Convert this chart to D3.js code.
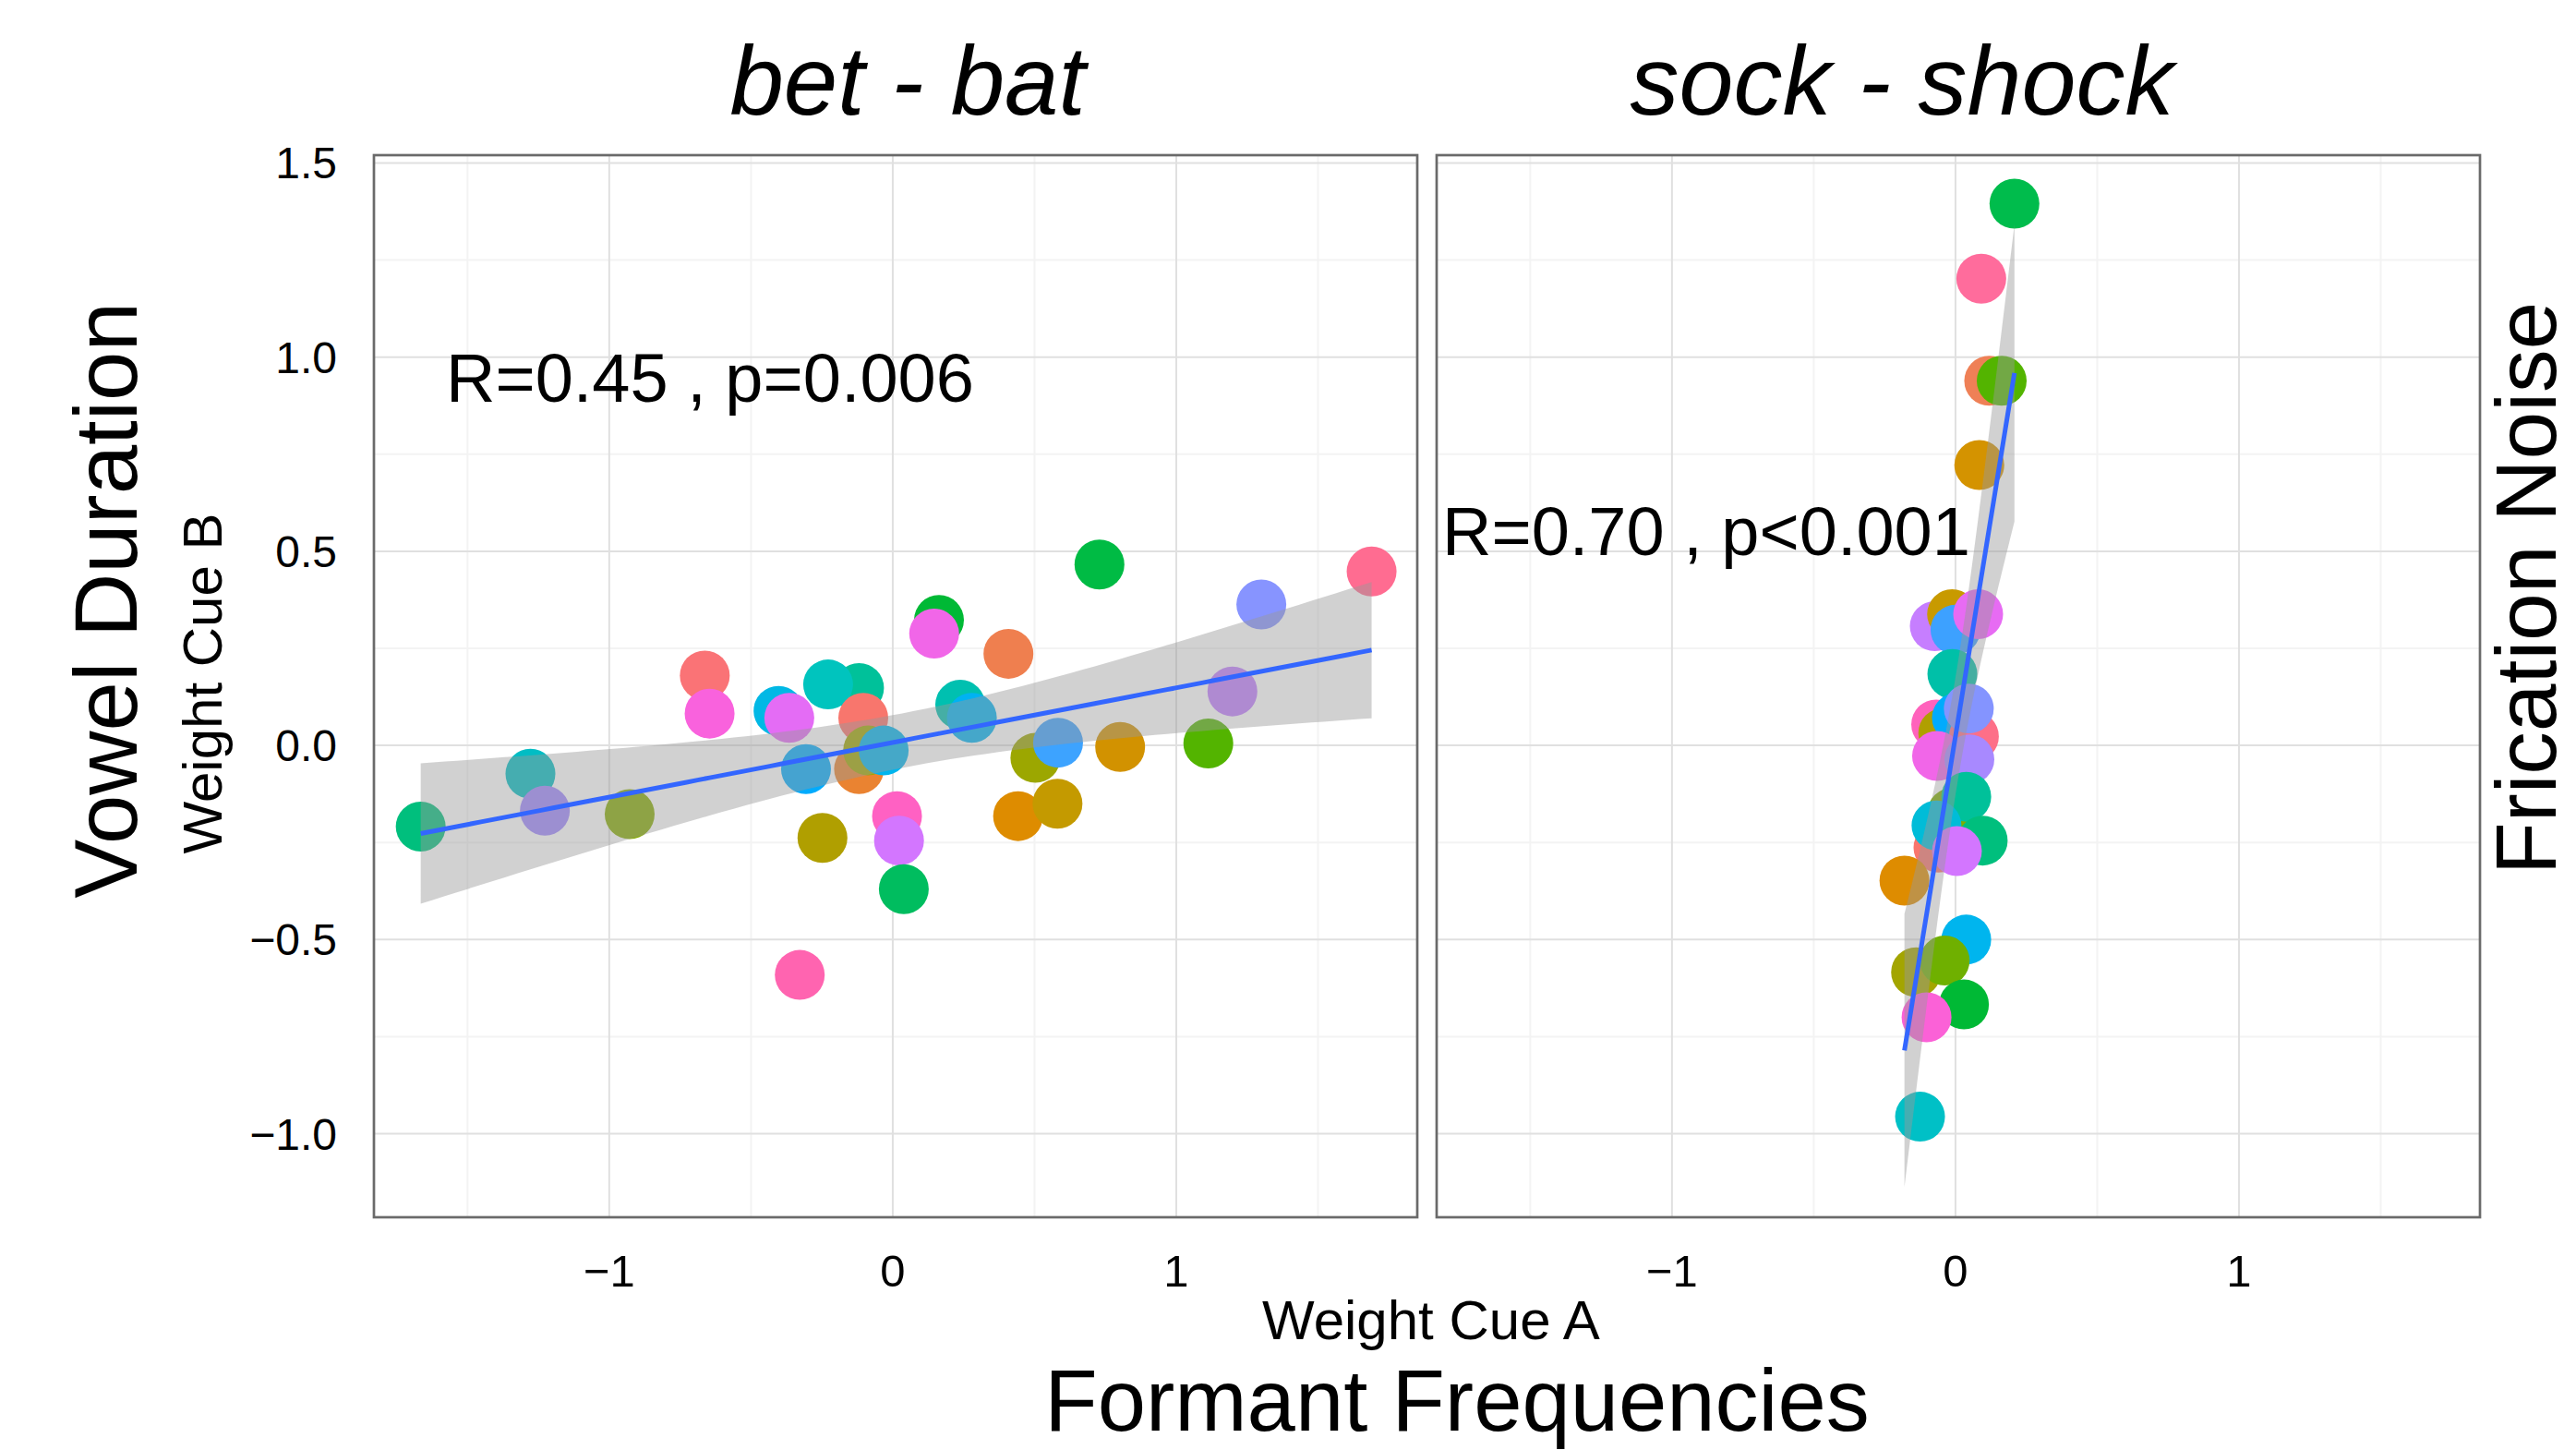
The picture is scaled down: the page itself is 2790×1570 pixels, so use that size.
<!DOCTYPE html>
<html>
<head>
<meta charset="utf-8">
<script src="https://cdn.jsdelivr.net/npm/d3@7"></script>
<style>
  html, body { margin: 0; padding: 0; background: #fff; }
  svg { display: block; font-family: "Liberation Sans", Arial, Helvetica, sans-serif; }
</style>
</head>
<body>
<svg id="chart" width="2790" height="1570"></svg>
<script>
// bet - bat panel (one point per listener)
var betX = [-1.665, -1.278, -1.227, -0.928, -0.663, -0.646, -0.403, -0.365, -0.119, -0.228,
            -0.104, -0.306, -0.119, -0.087, -0.032, -0.248, 0.015, 0.022, 0.039, -0.328,
            0.163, 0.146, 0.238, 0.279, 0.408, 0.503, 0.583, 0.442, 0.581, 0.729,
            0.802, 1.113, 1.198, 1.300, 1.689];
var betY = [-0.209, -0.073, -0.168, -0.177, 0.180, 0.082, 0.089, 0.071, 0.148, 0.157,
            0.071, -0.061, -0.061, -0.013, -0.013, -0.238, -0.182, -0.245, -0.370, -0.591,
            0.323, 0.288, 0.105, 0.071, 0.236, -0.032, 0.007, -0.182, -0.150, 0.466,
            -0.004, 0.005, 0.139, 0.363, 0.448];
var betColor = ["#00BF7D", "#00BDC4", "#9E87FF", "#86AC00", "#FA7376", "#F962DD", "#00B8E5", "#E46CF5", "#00C19A", "#00C4BE",
                "#F8766D", "#00ABFD", "#EA8331", "#9FA600", "#00B5EE", "#B09F00", "#FF61C3", "#D376FF", "#00BD5F", "#FF64B0",
                "#00B935", "#F166E8", "#00C0B0", "#00B2F3", "#EF7F4F", "#9CA700", "#3DA3FF", "#DE8C00", "#C49A00", "#00BB44",
                "#D29200", "#53B400", "#C17FFF", "#8794FF", "#FF6C91"];

// sock - shock panel
var sockX = [0.208, 0.091, 0.119, 0.163, 0.084, -0.073, -0.012, 0.000, 0.080, -0.011,
             -0.068, -0.043, 0.005, 0.065, 0.047, -0.065, 0.049, -0.011, 0.038, 0.096,
             -0.060, -0.067, 0.005, -0.180, 0.038, -0.139, -0.038, 0.030, -0.102, -0.125];
var sockY = [1.395, 1.202, 0.939, 0.939, 0.722, 0.307, 0.338, 0.298, 0.338, 0.184,
             0.054, 0.032, 0.071, 0.023, 0.095, -0.027, -0.036, -0.173, -0.132, -0.245,
             -0.263, -0.206, -0.272, -0.348, -0.500, -0.584, -0.554, -0.667, -0.700, -0.956];
var sockColor = ["#00BC4C", "#FF6C9C", "#EF8056", "#53B400", "#D49300", "#C67EFF", "#C89A00", "#3DA1FF", "#E76BF3", "#00C0A8",
                 "#FF62BC", "#B09F00", "#00ABFD", "#FD6F88", "#8494FF", "#F166E8", "#A889FF", "#7FAE00", "#00C19A", "#00BF7D",
                 "#F8766D", "#00BCD8", "#D376FF", "#DE8C00", "#00B5EE", "#A3A500", "#6FB000", "#00B935", "#FB61D7", "#00C0C6"];

var panelTitles = ["bet - bat", "sock - shock"];
var statLabels = ["R=0.45 , p=0.006", "R=0.70 , p<0.001"];
var xMajor = [-1, 0, 1];
var xMinor = [-1.5, -0.5, 0.5, 1.5];
var yMajor = [-1.0, -0.5, 0.0, 0.5, 1.0, 1.5];
var yMinor = [-0.75, -0.25, 0.25, 0.75, 1.25];

var svg = d3.select("#chart");
var panelW = 1130, panelTop = 168, panelBottom = 1318;
var panelLeft = [405, 1556];
var xDomain = [-1.83, 1.85], yDomain = [-1.215, 1.52];

var fmtY = d3.format(".1f"), fmtX = d3.format("d");

// critical t value for a 95% band (Cornish-Fisher expansion around z)
function tCrit(df) {
  var z = 1.959964;
  return z + (z * z * z + z) / (4 * df) + (5 * Math.pow(z, 5) + 16 * z * z * z + 3 * z) / (96 * df * df);
}

function linFit(xs, ys) {
  var n = xs.length,
      mx = d3.mean(xs),
      my = d3.mean(ys),
      sxx = 0, sxy = 0, syy = 0;
  xs.forEach(function(x, i) {
    sxx += (x - mx) * (x - mx);
    sxy += (x - mx) * (ys[i] - my);
    syy += (ys[i] - my) * (ys[i] - my);
  });
  var b = sxy / sxx,
      a = my - b * mx,
      s = Math.sqrt((syy - b * sxy) / (n - 2)),
      t = tCrit(n - 2),
      lo = d3.min(xs), hi = d3.max(xs);
  return d3.range(80).map(function(k) {
    var x = lo + (hi - lo) * k / 79,
        fit = a + b * x,
        se = s * Math.sqrt(1 / n + (x - mx) * (x - mx) / sxx);
    return { x: x, y: fit, lo: fit - t * se, hi: fit + t * se };
  });
}

var panels = [
  { xs: betX, ys: betY, cols: betColor },
  { xs: sockX, ys: sockY, cols: sockColor }
];

panels.forEach(function(p, pi) {
  var x = d3.scaleLinear().domain(xDomain).range([panelLeft[pi], panelLeft[pi] + panelW]);
  var y = d3.scaleLinear().domain(yDomain).range([panelBottom, panelTop]);
  var g = svg.append("g").attr("class", "panel-" + pi);

  // grid
  g.selectAll("line.minor-x").data(xMinor).enter().append("line")
    .attr("x1", function(d) { return x(d); }).attr("x2", function(d) { return x(d); })
    .attr("y1", panelTop).attr("y2", panelBottom)
    .attr("stroke", "#f3f3f3").attr("stroke-width", 2);
  g.selectAll("line.minor-y").data(yMinor).enter().append("line")
    .attr("y1", function(d) { return y(d); }).attr("y2", function(d) { return y(d); })
    .attr("x1", panelLeft[pi]).attr("x2", panelLeft[pi] + panelW)
    .attr("stroke", "#f3f3f3").attr("stroke-width", 2);
  g.selectAll("line.major-x").data(xMajor).enter().append("line")
    .attr("x1", function(d) { return x(d); }).attr("x2", function(d) { return x(d); })
    .attr("y1", panelTop).attr("y2", panelBottom)
    .attr("stroke", "#e0e0e0").attr("stroke-width", 2);
  g.selectAll("line.major-y").data(yMajor).enter().append("line")
    .attr("y1", function(d) { return y(d); }).attr("y2", function(d) { return y(d); })
    .attr("x1", panelLeft[pi]).attr("x2", panelLeft[pi] + panelW)
    .attr("stroke", "#e0e0e0").attr("stroke-width", 2);

  // points
  g.selectAll("circle").data(p.xs).enter().append("circle")
    .attr("cx", function(d) { return x(d); })
    .attr("cy", function(d, i) { return y(p.ys[i]); })
    .attr("r", 27)
    .attr("fill", function(d, i) { return p.cols[i]; });

  // smooth + band
  var fit = linFit(p.xs, p.ys);
  g.append("path").datum(fit)
    .attr("d", d3.area().x(function(d) { return x(d.x); })
      .y0(function(d) { return y(d.lo); }).y1(function(d) { return y(d.hi); }))
    .attr("fill", "#999999").attr("fill-opacity", 0.45);
  g.append("path").datum(fit)
    .attr("d", d3.line().x(function(d) { return x(d.x); }).y(function(d) { return y(d.y); }))
    .attr("fill", "none").attr("stroke", "#3366FF").attr("stroke-width", 5);

  // border
  g.append("rect")
    .attr("x", panelLeft[pi]).attr("y", panelTop)
    .attr("width", panelW).attr("height", panelBottom - panelTop)
    .attr("fill", "none").attr("stroke", "#6a6a6a").attr("stroke-width", 2.7);

  // x tick labels
  g.selectAll("text.xtick").data(xMajor).enter().append("text")
    .attr("x", function(d) { return x(d); }).attr("y", 1393)
    .attr("text-anchor", "middle").attr("font-size", 49)
    .text(function(d) { return fmtX(d); });

  if (pi === 0) {
    g.selectAll("text.ytick").data(yMajor).enter().append("text")
      .attr("x", 365).attr("y", function(d) { return y(d) + 17; })
      .attr("text-anchor", "end").attr("font-size", 48)
      .text(function(d) { return fmtY(d); });
  }

  // strip title
  svg.append("text")
    .attr("x", pi === 0 ? 983 : 2060).attr("y", 124)
    .attr("text-anchor", "middle").attr("font-size", pi === 0 ? 105 : 106).attr("font-style", "italic")
    .text(panelTitles[pi]);

  // correlation label
  svg.append("text")
    .attr("x", pi === 0 ? 483 : 1562).attr("y", pi === 0 ? 435 : 601)
    .attr("font-size", 74)
    .text(statLabels[pi]);
});

// axis titles
svg.append("text").attr("transform", "translate(148,650) rotate(-90)")
  .attr("text-anchor", "middle").attr("font-size", 96).text("Vowel Duration");
svg.append("text").attr("transform", "translate(240,740) rotate(-90)")
  .attr("text-anchor", "middle").attr("font-size", 60).text("Weight Cue B");
svg.append("text").attr("transform", "translate(2768,637) rotate(-90)")
  .attr("text-anchor", "middle").attr("font-size", 93).text("Frication Noise");
svg.append("text").attr("x", 1550).attr("y", 1450)
  .attr("text-anchor", "middle").attr("font-size", 60).text("Weight Cue A");
svg.append("text").attr("x", 1578).attr("y", 1549)
  .attr("text-anchor", "middle").attr("font-size", 94).text("Formant Frequencies");
</script>
</body>
</html>
